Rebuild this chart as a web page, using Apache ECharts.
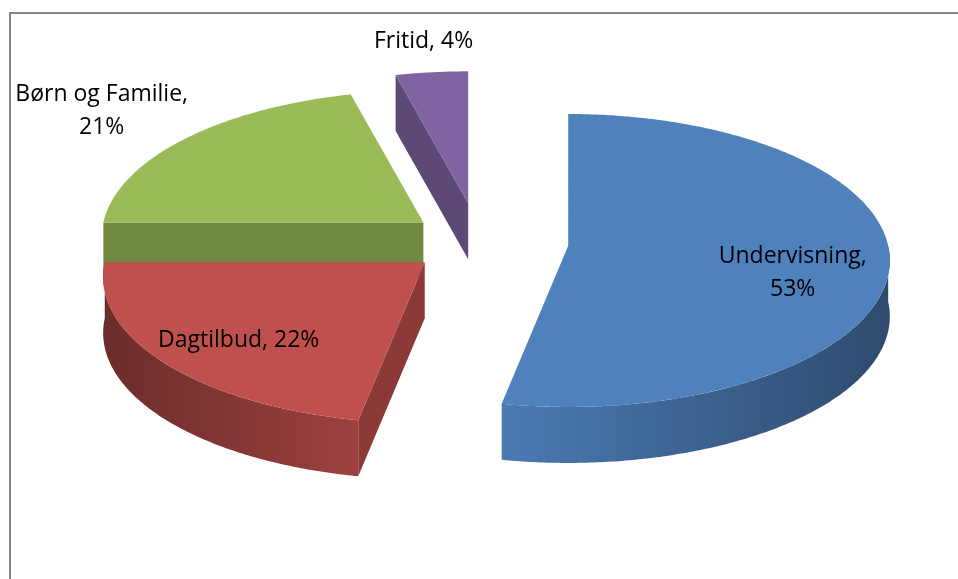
<!DOCTYPE html>
<html>
<head>
<meta charset="utf-8">
<script src="https://cdn.jsdelivr.net/npm/echarts@6/dist/echarts.min.js"></script>
<style>
html, body { margin: 0; padding: 0; background: #fff; }
#pie { width: 958px; height: 579px; }
</style>
</head>
<body>
<div id="pie"></div>
<script>
// data
var names = ['Undervisning', 'Dagtilbud', 'Børn og Familie', 'Fritid'];
var values = [53, 22, 21, 4];
var colors = ['#4F81BD', '#C0504D', '#9BBB59', '#8064A2'];
// layout: explode (fraction of radius), label [radius factor, dy], label wraps after the name
var explode = [0.28, 0.22, 0.22, 0.27];
var labelPos = [[0.7, 18], [0.72, 8], [1.38, 2], [1.25, -2]];
var labelWrap = [true, false, true, false];

var myChart = echarts.init(document.getElementById('pie'));

var cx = 479, cy = 242, rx = 320, ry = 145, persp = 0.1, depth = 56;
var total = values.reduce(function (a, b) { return a + b; }, 0);

function shade(hex, k) {
    var n = parseInt(hex.slice(1), 16);
    var r = Math.round(((n >> 16) & 255) * k), g = Math.round(((n >> 8) & 255) * k), b = Math.round((n & 255) * k);
    return 'rgb(' + r + ',' + g + ',' + b + ')';
}

function proj(ax, ay, th, r) {
    var s = Math.sin(th), c = Math.cos(th);
    var f = 1 / (1 + persp * s * r);
    return [ax + rx * r * c * f, ay - ry * r * s * f];
}

function renderItem(params, api) {
    var i = params.dataIndex;
    var before = 0;
    for (var j = 0; j < i; j++) before += values[j];
    var a0 = Math.PI / 2 - 2 * Math.PI * before / total;
    var a1 = a0 - 2 * Math.PI * values[i] / total;
    var mid = (a0 + a1) / 2;
    var ax = cx + rx * explode[i] * Math.cos(mid);
    var ay = cy - ry * explode[i] * Math.sin(mid);
    var base = Math.round(ay) * 10;
    var children = [];

    // radial cut faces that face the viewer
    [[a0, Math.cos(a0)], [a1, -Math.cos(a1)]].forEach(function (e) {
        if (e[1] < -1e-6) {
            var p = proj(ax, ay, e[0], 1);
            children.push({
                type: 'polygon', z2: base + 1,
                shape: { points: [[ax, ay], p, [p[0], p[1] + depth], [ax, ay + depth]] },
                style: { fill: shade(colors[i], 0.73) }
            });
        }
    });

    // front outer wall
    var lo = Math.max(a1, -Math.PI), hi = Math.min(a0, 0);
    if (lo < hi) {
        var topPts = [], botPts = [];
        var n = Math.max(8, Math.ceil((hi - lo) / 0.01));
        for (var t = 0; t <= n; t++) {
            var p = proj(ax, ay, hi - (hi - lo) * t / n, 1);
            topPts.push(p);
            botPts.unshift([p[0], p[1] + depth]);
        }
        children.push({
            type: 'polygon', z2: base + 2,
            shape: { points: topPts.concat(botPts) },
            style: {
                fill: new echarts.graphic.LinearGradient(100, 0, 890, 0, [
                    { offset: 0, color: shade(colors[i], 0.55) },
                    { offset: 0.5, color: shade(colors[i], 0.95) },
                    { offset: 1, color: shade(colors[i], 0.58) }
                ], true)
            }
        });
    }

    // top face
    var pts = [[ax, ay]];
    var m = Math.max(4, Math.ceil((a0 - a1) / 0.01));
    for (var t2 = 0; t2 <= m; t2++) {
        pts.push(proj(ax, ay, a0 - (a0 - a1) * t2 / m, 1));
    }
    children.push({
        type: 'polygon', z2: base + 3,
        shape: { points: pts },
        style: { fill: colors[i] }
    });

    // label
    var lp = proj(ax, ay, mid, labelPos[i][0]);
    var pct = Math.round(values[i] / total * 100) + '%';
    children.push({
        type: 'text', z2: 100000,
        x: lp[0], y: lp[1] + labelPos[i][1],
        style: {
            text: names[i] + ',' + (labelWrap[i] ? '\n' : ' ') + pct,
            fill: '#000',
            fontFamily: 'Open Sans',
            fontSize: 23,
            lineHeight: 33,
            align: 'center',
            verticalAlign: 'middle'
        }
    });

    return { type: 'group', children: children };
}

var option = {
    animation: false,
    graphic: [{
        type: 'rect',
        shape: { x: 10, y: 13, width: 1000, height: 700 },
        style: { fill: 'none', stroke: '#868686', lineWidth: 2 },
        silent: true
    }],
    series: [{
        type: 'custom',
        coordinateSystem: 'none',
        silent: true,
        data: values,
        renderItem: renderItem
    }]
};

myChart.setOption(option);
window.addEventListener('resize', function () {
    myChart.resize();
});
</script>
</body>
</html>
